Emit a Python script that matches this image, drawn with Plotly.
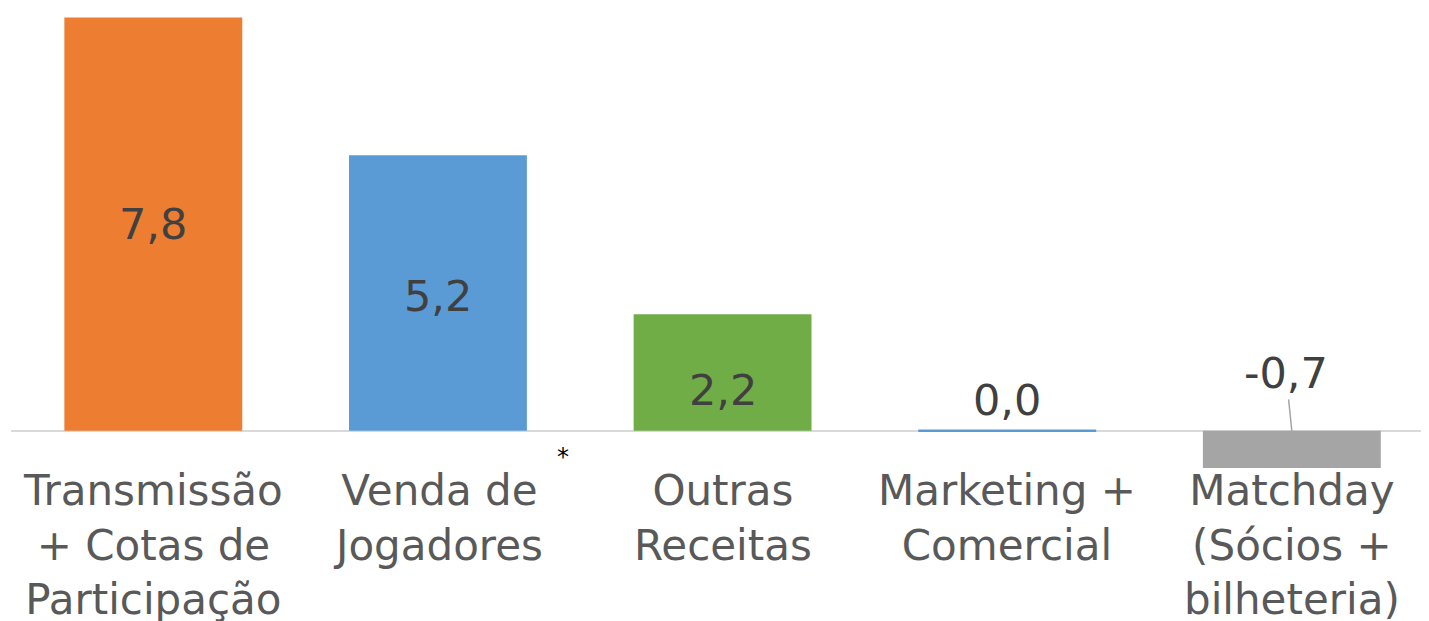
import plotly.graph_objects as go

categories = ["Transmissão<br>+ Cotas de<br>Participação", "Venda de<br>Jogadores", "Outras<br>Receitas",
              "Marketing +<br>Comercial", "Matchday<br>(Sócios +<br>bilheteria)"]
values = [7.8, 5.2, 2.2, 0.0, -0.7]
value_labels = ["7,8", "5,2", "2,2", "0,0", "-0,7"]
colors = ["#ED7D31", "#5B9BD5", "#70AD47", "#5B9BD5", "#A5A5A5"]

FONT = "DejaVu Sans"
xs = list(range(len(categories)))

fig = go.Figure()
fig.add_trace(go.Bar(
    x=xs, y=values, marker_color=colors,
    marker_line_color=colors,
    marker_line_width=[0, 0, 0, 2.5, 0],
    width=0.625, hoverinfo="skip",
))

annotations = []
# category labels
for i, c in enumerate(categories):
    annotations.append(dict(x=i, y=0, xref="x", yref="y", text=c, showarrow=False,
                            yanchor="top", yshift=-33,
                            font=dict(family=FONT, size=42, color="#595959")))
# data labels
shifts = [0, -3, -17]
for i in range(3):
    annotations.append(dict(x=i, y=values[i] / 2, xref="x", yref="y", text=value_labels[i],
                            showarrow=False, yshift=shifts[i],
                            font=dict(family=FONT, size=43, color="#404040")))
annotations.append(dict(x=3, y=values[3], xref="x", yref="y", text=value_labels[3],
                        showarrow=False, yanchor="middle", yshift=31,
                        font=dict(family=FONT, size=43, color="#404040")))
annotations.append(dict(x=4, y=0, xref="x", yref="y", text=value_labels[4],
                        showarrow=True, arrowhead=0, arrowwidth=1.5, arrowcolor="#A6A6A6",
                        ax=-6, ay=-58, standoff=0,
                        font=dict(family=FONT, size=43, color="#404040")))
annotations.append(dict(x=1, y=0, xref="x", yref="y", text="*", showarrow=False,
                        xshift=125, yshift=-26,
                        font=dict(family=FONT, size=24, color="#000000")))

fig.update_layout(
    width=1429, height=621,
    margin=dict(l=3, r=0, t=0, b=0),
    paper_bgcolor="white", plot_bgcolor="white",
    showlegend=False,
    xaxis=dict(range=[-0.5, 4.51], showticklabels=False, showgrid=False, zeroline=False,
               showline=False, ticks=""),
    yaxis=dict(range=[-3.74, 7.98], showticklabels=False, showgrid=False,
               zeroline=True, zerolinecolor="#D9D9D9", zerolinewidth=2, showline=False, ticks=""),
    annotations=annotations,
)

fig.write_html("out.html")
